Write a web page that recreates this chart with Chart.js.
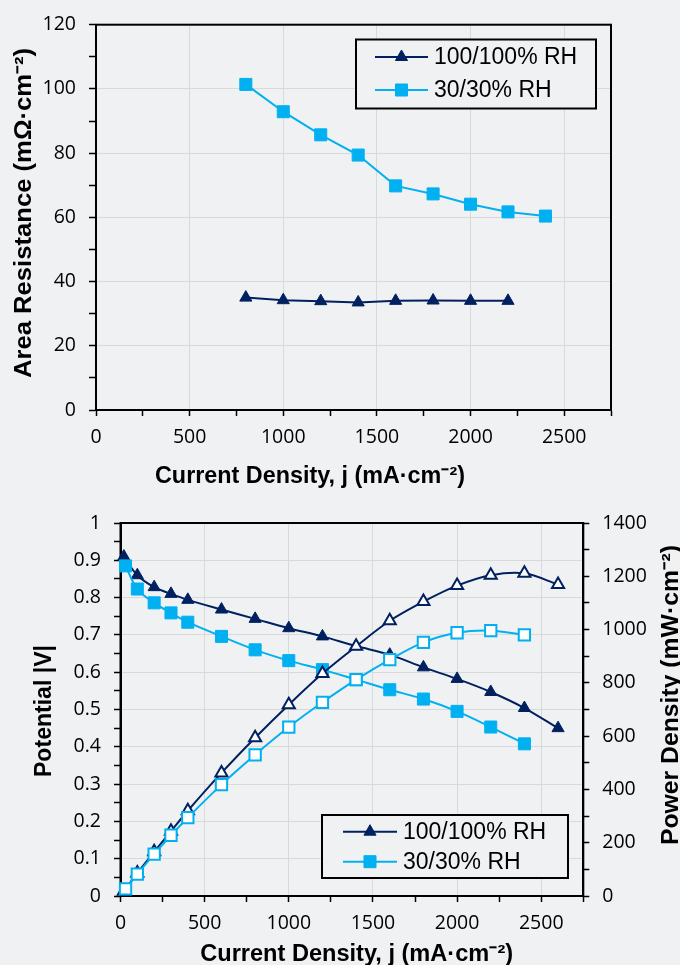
<!DOCTYPE html>
<html>
<head>
<meta charset="utf-8">
<script src="https://cdn.jsdelivr.net/npm/chart.js@4.4.0/dist/chart.umd.min.js"></script>
<style>
  html, body { margin: 0; padding: 0; background: #f0f1f3; }
  #wrap { position: relative; width: 680px; height: 965px; overflow: hidden; }
  #topChart { position: absolute; left: 0; top: 0; }
  #bottomChart { position: absolute; left: 0; top: 490px; }
</style>
</head>
<body>
<div id="wrap">
  <canvas id="topChart" width="680" height="490"></canvas>
  <canvas id="bottomChart" width="680" height="475"></canvas>
</div>
<script>
// ---- data: area resistance vs current density ----
const resCurrentWet = [800, 1000, 1200, 1400, 1600, 1800, 2000, 2200];
const resWet = [35.0, 34.2, 33.9, 33.5, 34.0, 34.1, 34.0, 34.0];
const resCurrentDry = [800, 1000, 1200, 1400, 1600, 1800, 2000, 2200, 2400];
const resDry = [101.4, 92.9, 85.7, 79.4, 69.8, 67.3, 64.1, 61.7, 60.4];

// ---- data: polarization and power density ----
const polCurrentWet = [20, 100, 200, 300, 400, 600, 800, 1000, 1200, 1400, 1600, 1800, 2000, 2200, 2400, 2600];
const potentialWet = [0.91, 0.86, 0.828, 0.81, 0.794, 0.768, 0.743, 0.718, 0.696, 0.67, 0.647, 0.613, 0.582, 0.547, 0.504, 0.45];
const powerWet = [18, 86, 166, 243, 320, 462, 594, 718, 835, 937, 1033, 1105, 1165, 1204, 1211, 1169];
const polCurrentDry = [30, 100, 200, 300, 400, 600, 800, 1000, 1200, 1400, 1600, 1800, 2000, 2200, 2400];
const potentialDry = [0.885, 0.823, 0.786, 0.759, 0.734, 0.696, 0.66, 0.631, 0.607, 0.58, 0.553, 0.528, 0.495, 0.453, 0.408];
const powerDry = [27, 82, 157, 228, 294, 418, 530, 634, 727, 812, 887, 952, 988, 996, 980];

const seriesLabels = ['100/100% RH', '30/30% RH'];
const xTitle = 'Current Density, j (mA\u00b7cm\u207b\u00b2)';
const resTitle = 'Area Resistance (m\u03a9\u00b7cm\u207b\u00b2)';
const potTitle = 'Potential |V|';
const powTitle = 'Power Density (mW\u00b7cm\u207b\u00b2)';

const navy = '#002060';
const sky = '#00b0f0';
const bg = '#f0f1f3';
const gridGray = '#d9d9d9';
const tickFont = { family: "'Open Sans', 'Noto Sans', sans-serif", size: 19.5 };
const titleFont = "bold 23px 'Liberation Sans', Arial, sans-serif";
const legendFont = "23px 'Liberation Sans', Arial, sans-serif";

function pts(xs, ys) {
    return xs.map((x, i) => ({ x: x, y: ys[i] }));
}

// draw text squeezed to a given width, optionally rotated bottom-to-top
function fitText(ctx, text, x, y, width, vertical) {
    ctx.save();
    ctx.font = titleFont;
    ctx.fillStyle = '#000';
    ctx.textAlign = 'center';
    ctx.textBaseline = 'alphabetic';
    const s = width / ctx.measureText(text).width;
    ctx.translate(x, y);
    if (vertical) ctx.rotate(-Math.PI / 2);
    ctx.scale(s, 1);
    ctx.fillText(text, 0, 0);
    ctx.restore();
}

function drawLegend(ctx, box, rows, lineX0, lineX1, textX) {
    ctx.save();
    ctx.fillStyle = bg;
    ctx.fillRect(box.x, box.y, box.w, box.h);
    ctx.strokeStyle = '#000';
    ctx.lineWidth = 2;
    ctx.strokeRect(box.x, box.y, box.w, box.h);
    rows.forEach(r => {
        ctx.strokeStyle = r.color;
        ctx.lineWidth = 2;
        ctx.beginPath();
        ctx.moveTo(lineX0, r.y);
        ctx.lineTo(lineX1, r.y);
        ctx.stroke();
        ctx.fillStyle = r.color;
        ctx.strokeStyle = r.color;
        ctx.lineWidth = 1;
        Chart.helpers.drawPoint(ctx, { pointStyle: r.style, radius: r.radius, rotation: 0, borderWidth: 1 },
            (lineX0 + lineX1) / 2, r.y);
        ctx.fillStyle = '#000';
        ctx.font = legendFont;
        ctx.textAlign = 'left';
        ctx.textBaseline = 'middle';
        ctx.fillText(r.label, textX, r.y + 1);
    });
    ctx.restore();
}

const frame = {
    id: 'frame',
    beforeDatasetsDraw(chart) {
        const a = chart.chartArea, ctx = chart.ctx;
        ctx.save();
        ctx.strokeStyle = '#000';
        ctx.lineWidth = 2;
        ctx.strokeRect(a.left, a.top, a.right - a.left, a.bottom - a.top);
        ctx.restore();
    }
};

function xAxis(height) {
    return {
        type: 'linear', min: 0, max: 2750,
        afterFit(s) { s.height = height; },
        border: { color: '#000', width: 2 },
        grid: {
            color: c => (c.tick && c.tick.value % 500 === 0) ? gridGray : 'rgba(0,0,0,0)',
            tickColor: '#000', tickLength: 6, lineWidth: 1, tickWidth: 1.5
        },
        ticks: {
            stepSize: 250, autoSkip: false, maxRotation: 0, padding: 10,
            color: '#000', font: tickFont,
            callback: v => v % 500 === 0 ? String(v) : ''
        }
    };
}

// ---- top chart ----
new Chart(document.getElementById('topChart'), {
    type: 'line',
    data: {
        datasets: [
            {
                label: seriesLabels[1], data: pts(resCurrentDry, resDry),
                borderColor: sky, backgroundColor: sky, borderWidth: 2,
                pointStyle: 'rect', pointRadius: 8.5, pointBorderWidth: 1, tension: 0, clip: false
            },
            {
                label: seriesLabels[0], data: pts(resCurrentWet, resWet),
                borderColor: navy, backgroundColor: navy, borderWidth: 2,
                pointStyle: 'triangle', pointRadius: 7, pointBorderWidth: 1, tension: 0, clip: false
            }
        ]
    },
    options: {
        responsive: false, animation: false,
        layout: { padding: { top: 21, right: 69, left: 0, bottom: 0 } },
        plugins: { legend: { display: false }, tooltip: { enabled: false } },
        scales: {
            x: xAxis(80),
            y: {
                min: 0, max: 120,
                afterFit(s) { s.width = 96; },
                border: { color: '#000', width: 2 },
                grid: {
                    color: c => (c.tick && c.tick.value % 20 === 0) ? gridGray : 'rgba(0,0,0,0)',
                    tickColor: '#000', tickLength: 7, tickWidth: 1.5
                },
                ticks: {
                    stepSize: 10, autoSkip: false, padding: 13, color: '#000', font: tickFont,
                    callback: v => v % 20 === 0 ? String(v) : ''
                }
            }
        }
    },
    plugins: [frame, {
        id: 'topDecor',
        afterDraw(chart) {
            const ctx = chart.ctx;
            fitText(ctx, xTitle, 310, 483, 310, false);
            fitText(ctx, resTitle, 31, 213, 330, true);
            drawLegend(ctx, { x: 356, y: 39.5, w: 240, h: 69 }, [
                { label: seriesLabels[0], color: navy, style: 'triangle', radius: 7, y: 57 },
                { label: seriesLabels[1], color: sky, style: 'rect', radius: 8.5, y: 90 }
            ], 375, 428, 434);
        }
    }]
});

// ---- bottom chart ----
new Chart(document.getElementById('bottomChart'), {
    type: 'line',
    data: {
        datasets: [
            {
                label: seriesLabels[1] + ' power', data: pts(polCurrentDry, powerDry), yAxisID: 'y2',
                borderColor: sky, backgroundColor: '#ffffff', borderWidth: 2,
                pointStyle: 'rect', pointRadius: 8, pointBorderWidth: 2, tension: 0.33, clip: false
            },
            {
                label: seriesLabels[0] + ' power', data: pts(polCurrentWet, powerWet), yAxisID: 'y2',
                borderColor: navy, backgroundColor: '#ffffff', borderWidth: 2,
                pointStyle: 'triangle', pointRadius: 7, pointBorderWidth: 2, tension: 0.33, clip: false
            },
            {
                label: seriesLabels[1], data: pts(polCurrentDry, potentialDry), yAxisID: 'y',
                borderColor: sky, backgroundColor: sky, borderWidth: 2,
                pointStyle: 'rect', pointRadius: 8.5, pointBorderWidth: 1, tension: 0.33, clip: false
            },
            {
                label: seriesLabels[0], data: pts(polCurrentWet, potentialWet), yAxisID: 'y',
                borderColor: navy, backgroundColor: navy, borderWidth: 2,
                pointStyle: 'triangle', pointRadius: 7, pointBorderWidth: 1, tension: 0.33, clip: false
            }
        ]
    },
    options: {
        responsive: false, animation: false,
        layout: { padding: { top: 33, right: 0, left: 0, bottom: 0 } },
        plugins: { legend: { display: false }, tooltip: { enabled: false } },
        scales: {
            x: xAxis(69),
            y: {
                position: 'left', min: 0, max: 1,
                afterFit(s) { s.width = 120.5; },
                border: { color: '#000', width: 2 },
                grid: {
                    color: c => (c.tick && Math.round(c.tick.value * 100) % 10 === 0) ? gridGray : 'rgba(0,0,0,0)',
                    tickColor: '#000', tickLength: 6.5, tickWidth: 1.5
                },
                ticks: {
                    stepSize: 0.05, autoSkip: false, padding: 13, color: '#000', font: tickFont,
                    callback: v => {
                        const t = Math.round(v * 100);
                        return t % 10 === 0 ? String(t / 100) : '';
                    }
                }
            },
            y2: {
                position: 'right', min: 0, max: 1400,
                afterFit(s) { s.width = 96.7; },
                border: { color: '#000', width: 2 },
                grid: { drawOnChartArea: false, tickColor: '#000', tickLength: 6, tickWidth: 1.5 },
                ticks: {
                    stepSize: 100, autoSkip: false, padding: 13, color: '#000', font: tickFont,
                    callback: v => v % 200 === 0 ? String(v) : ''
                }
            }
        }
    },
    plugins: [frame, {
        id: 'bottomDecor',
        afterDraw(chart) {
            const ctx = chart.ctx;
            fitText(ctx, xTitle, 356.7, 470.5, 313, false);
            fitText(ctx, potTitle, 51, 221, 132, true);
            fitText(ctx, powTitle, 678, 205, 300, true);
            drawLegend(ctx, { x: 322, y: 325, w: 246, h: 63 }, [
                { label: seriesLabels[0], color: navy, style: 'triangle', radius: 7, y: 341.7 },
                { label: seriesLabels[1], color: sky, style: 'rect', radius: 8.5, y: 371.7 }
            ], 343, 397, 403);
        }
    }]
});
</script>
</body>
</html>
